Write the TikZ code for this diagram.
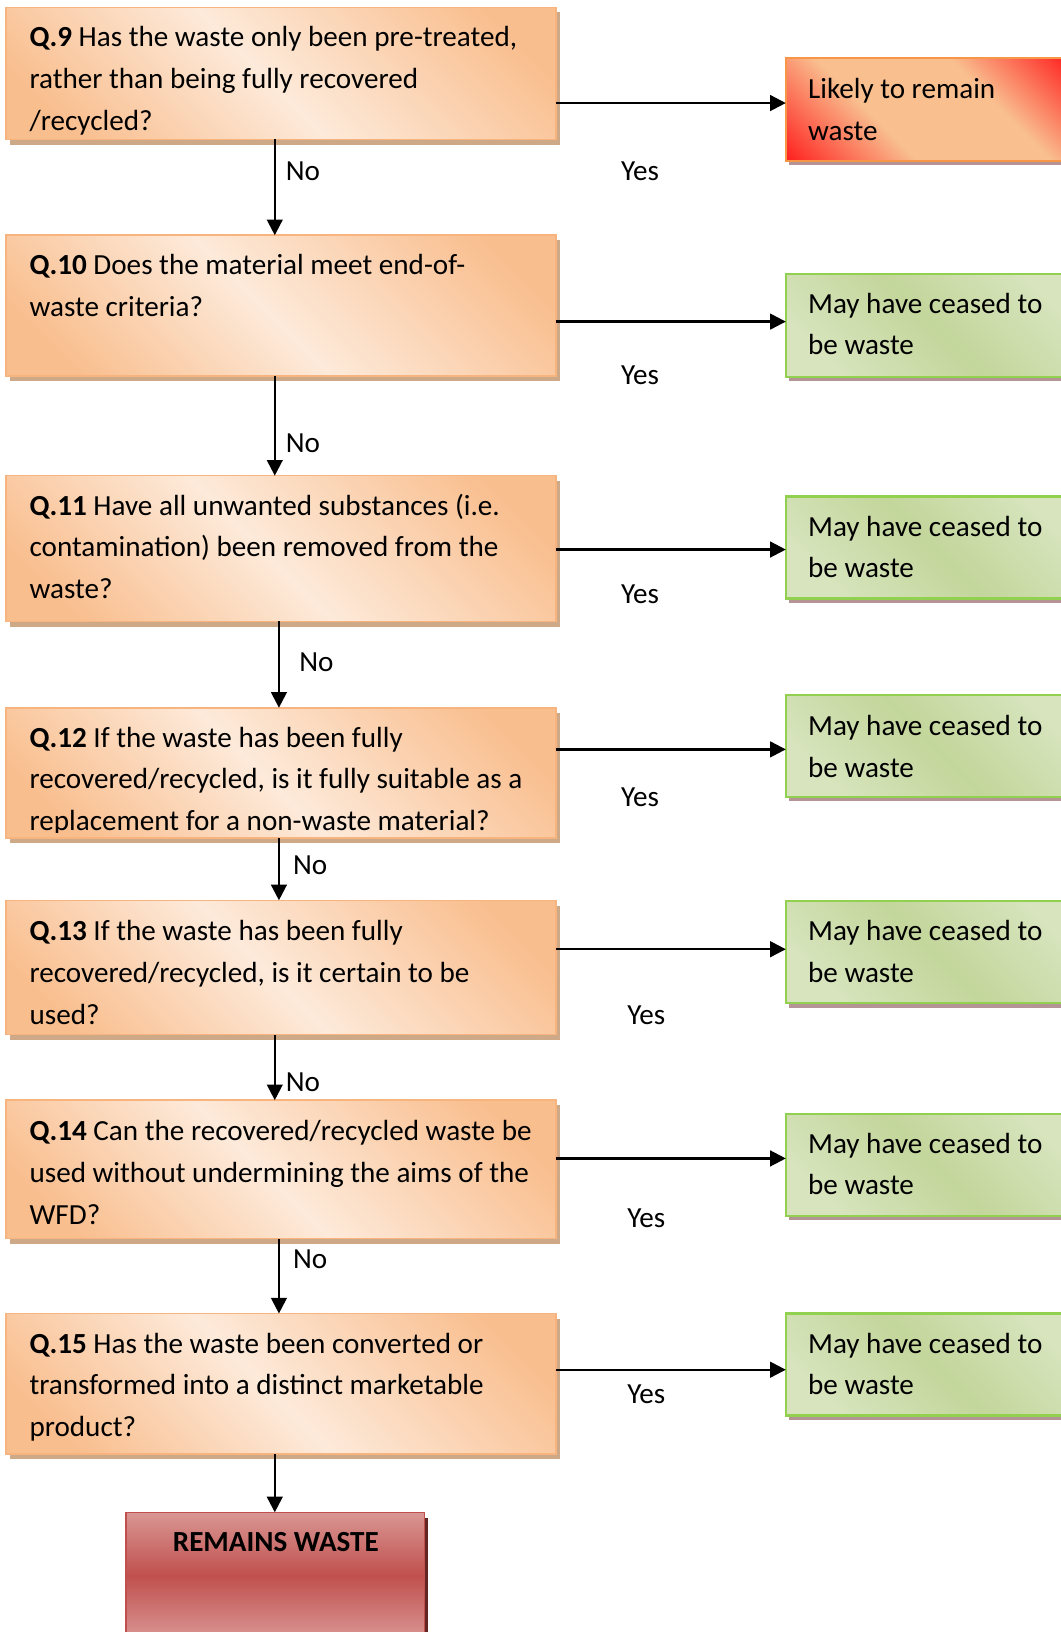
\documentclass[tikz,border=0pt]{standalone}
\usepackage{fontspec}
\setmainfont{Carlito}
\usetikzlibrary{arrows.meta,fit,shadows}

\definecolor{qdark}{HTML}{F9BE8E}
\definecolor{qlight}{HTML}{FDEADA}
\definecolor{qborder}{HTML}{F8B47E}
\definecolor{qsh}{HTML}{CDA987}
\definecolor{rred}{HTML}{FF1A1A}
\definecolor{rorange}{HTML}{F9BF8F}
\definecolor{rborder}{HTML}{F79646}
\definecolor{glight}{HTML}{D7E4BD}
\definecolor{gdark}{HTML}{C3D69B}
\definecolor{gborder}{HTML}{92D050}
\definecolor{gsh}{HTML}{B49494}
\definecolor{wlight}{HTML}{D99694}
\definecolor{wdark}{HTML}{C0504D}
\definecolor{wsh}{HTML}{632523}

\pgfdeclarehorizontalshading{qshade}{100bp}{color(0bp)=(qdark); color(22bp)=(qdark); color(48bp)=(qlight); color(78bp)=(qdark); color(100bp)=(qdark)}
\pgfdeclarehorizontalshading{redshade}{100bp}{color(0bp)=(rred); color(14bp)=(rred); color(38bp)=(rorange); color(62bp)=(rorange); color(84bp)=(rred); color(100bp)=(rred)}
\pgfdeclarehorizontalshading{gshade}{100bp}{color(0bp)=(glight); color(25bp)=(glight); color(50bp)=(gdark); color(75bp)=(glight); color(100bp)=(glight)}
\pgfdeclareverticalshading{wshade}{100bp}{color(0bp)=(wlight); color(25bp)=(wlight); color(50bp)=(wdark); color(75bp)=(wlight); color(100bp)=(wlight)}

\newcommand{\boxfont}{\fontsize{14pt}{20pt}\selectfont}

\tikzset{
  qbox/.style={inner sep=0pt, outer sep=0pt, draw=qborder, line width=0.75pt,
    shade, shading=qshade, shading angle=45,
    drop shadow={shadow xshift=2pt, shadow yshift=-2.5pt, opacity=1, fill=qsh}},
  redbox/.style={inner sep=0pt, outer sep=0pt, draw=rborder, line width=1pt,
    shade, shading=redshade, shading angle=45,
    drop shadow={shadow xshift=1.5pt, shadow yshift=-2pt, opacity=1, fill=gsh}},
  gbox/.style={inner sep=0pt, outer sep=0pt, draw=gborder, line width=1pt,
    shade, shading=gshade, shading angle=45,
    drop shadow={shadow xshift=1.5pt, shadow yshift=-2pt, opacity=1, fill=gsh}},
  wbox/.style={inner sep=0pt, outer sep=0pt, draw=wdark, line width=0.75pt,
    shade, shading=wshade,
    drop shadow={shadow xshift=1.5pt, shadow yshift=-2.5pt, opacity=1, fill=wsh}},
  boxtext/.style={anchor=base west, inner sep=0pt, text width=270pt, align=left,
    font=\boxfont, execute at begin node={\spaceskip=0pt\xspaceskip=0pt\relax}},
  lbl/.style={inner sep=0pt, font=\boxfont},
  arr/.style={draw=black, line width=1.1pt, -{Triangle[length=7.5pt,width=7.5pt]}},
}

\begin{document}
\begin{tikzpicture}[x=0.5pt, y=-0.5pt]
\useasboundingbox (0,0) rectangle (1019,1568);

% question boxes
\node[qbox, fit={(6,7) (534,134)}] (q9) {};
\node[qbox, fit={(6,226) (534,361)}] (q10) {};
\node[qbox, fit={(6,457) (534,597)}] (q11) {};
\node[qbox, fit={(6,680) (534,805)}] (q12) {};
\node[qbox, fit={(6,865) (534,994)}] (q13) {};
\node[qbox, fit={(6,1057) (534,1190)}] (q14) {};
\node[qbox, fit={(6,1262) (534,1397)}] (q15) {};

% outcome boxes
\node[redbox, fit={(755,56) (1040,155)}] (r9) {};
\node[gbox, fit={(755,263) (1040,362)}] (g10) {};
\node[gbox, fit={(755,477) (1040,575)}] (g11) {};
\node[gbox, fit={(755,668) (1040,766)}] (g12) {};
\node[gbox, fit={(755,866) (1040,964)}] (g13) {};
\node[gbox, fit={(755,1070) (1040,1168)}] (g14) {};
\node[gbox, fit={(755,1262) (1040,1360)}] (g15) {};
\node[wbox, fit={(121,1453) (408,1575)}] (rem) {};

% texts
\node[boxtext] (q9t) at (28,45) {\textbf{Q.9} Has the waste only been pre-treated,\\rather than being fully recovered\\/recycled?};
\node[boxtext] (q10t) at (28,264) {\textbf{Q.10} Does the material meet end-of-\\waste criteria?};
\node[boxtext] (q11t) at (28,495) {\textbf{Q.11} Have all unwanted substances (i.e.\\contamination) been removed from the\\waste?};
\begin{scope}
\clip (6,680) rectangle (534,800);
\node[boxtext] (q12t) at (28,718) {\textbf{Q.12} If the waste has been fully\\recovered/recycled, is it fully suitable as a\\replacement for a non-waste material?};
\end{scope}
\node[boxtext] (q13t) at (28,904) {\textbf{Q.13} If the waste has been fully\\recovered/recycled, is it certain to be\\used?};
\node[boxtext] (q14t) at (28,1096) {\textbf{Q.14} Can the recovered/recycled waste be\\used without undermining the aims of the\\WFD?};
\node[boxtext] (q15t) at (28,1300) {\textbf{Q.15} Has the waste been converted or\\transformed into a distinct marketable\\product?};

\node[boxtext] (r9t) at (776,95) {Likely to remain\\waste};
\node[boxtext] (g10t) at (776,301) {May have ceased to\\be waste};
\node[boxtext] (g11t) at (776,515) {May have ceased to\\be waste};
\node[boxtext] (g12t) at (776,707) {May have ceased to\\be waste};
\node[boxtext] (g13t) at (776,904) {May have ceased to\\be waste};
\node[boxtext] (g14t) at (776,1108) {May have ceased to\\be waste};
\node[boxtext] (g15t) at (776,1300) {May have ceased to\\be waste};
\node[lbl, font=\boxfont\bfseries] (remt) at (265,1482) {REMAINS WASTE};

% connector levels
\coordinate (y9) at (0,99);
\coordinate (y10) at (0,309);
\coordinate (y11) at (0,528);
\coordinate (y12) at (0,720);
\coordinate (y13) at (0,912);
\coordinate (y14) at (0,1113);
\coordinate (y15) at (0,1316);
\coordinate (xa) at (264,0);
\coordinate (xb) at (268,0);

% yes arrows
\draw[arr] (q9.east |- y9) -- (r9.west |- y9);
\draw[arr] (q10.east |- y10) -- (g10.west |- y10);
\draw[arr] (q11.east |- y11) -- (g11.west |- y11);
\draw[arr] (q12.east |- y12) -- (g12.west |- y12);
\draw[arr] (q13.east |- y13) -- (g13.west |- y13);
\draw[arr] (q14.east |- y14) -- (g14.west |- y14);
\draw[arr] (q15.east |- y15) -- (g15.west |- y15);

% no arrows
\draw[arr] (q9.south -| xa) -- (q10.north -| xa);
\draw[arr] (q10.south -| xa) -- (q11.north -| xa);
\draw[arr] (q11.south -| xb) -- (q12.north -| xb);
\draw[arr] (q12.south -| xb) -- (q13.north -| xb);
\draw[arr] (q13.south -| xa) -- (q14.north -| xa);
\draw[arr] (q14.south -| xb) -- (q15.north -| xb);
\draw[arr] (q15.south -| xa) -- (rem.north -| xa);

% labels
\node[lbl] (no9) at (291,165) {No};
\node[lbl] (no10) at (291,426) {No};
\node[lbl] (no11) at (304,636) {No};
\node[lbl] (no12) at (298,831) {No};
\node[lbl] (no13) at (291,1040) {No};
\node[lbl] (no14) at (298,1210) {No};

\node[lbl] (yes9) at (615,165) {Yes};
\node[lbl] (yes10) at (615,361) {Yes};
\node[lbl] (yes11) at (615,571) {Yes};
\node[lbl] (yes12) at (615,766) {Yes};
\node[lbl] (yes13) at (621,975) {Yes};
\node[lbl] (yes14) at (621,1170) {Yes};
\node[lbl] (yes15) at (621,1340) {Yes};
\end{tikzpicture}
\end{document}
